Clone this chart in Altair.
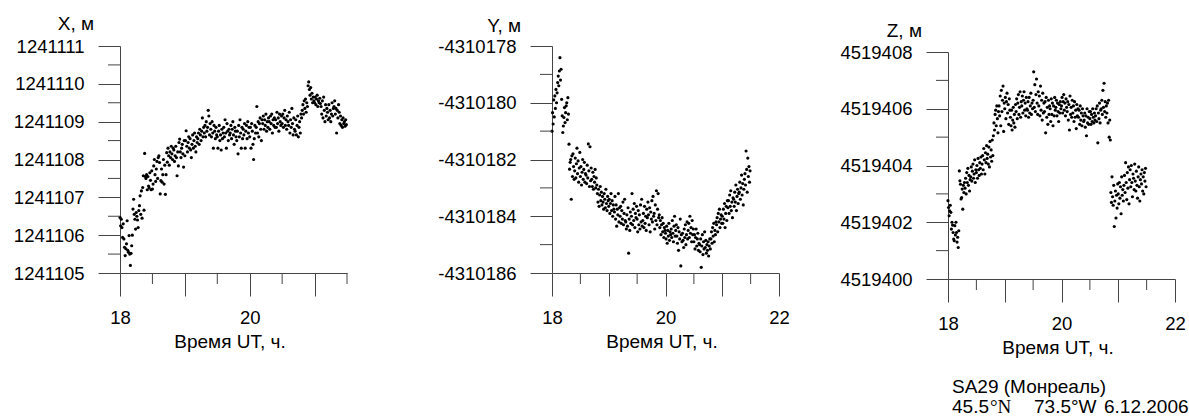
import altair as alt
import pandas as pd

# Epochs of the GPS solutions, hours UT
HOURS = [
    18.00, 18.01, 18.02, 18.03, 18.04, 18.05, 18.06, 18.07, 18.08, 18.09,
    18.10, 18.11, 18.12, 18.13, 18.14, 18.15, 18.16, 18.17, 18.18, 18.19,
    18.20, 18.21, 18.22, 18.23, 18.24, 18.25, 18.26, 18.27, 18.28, 18.29,
    18.30, 18.31, 18.32, 18.33, 18.34, 18.35, 18.36, 18.37, 18.38, 18.39,
    18.40, 18.41, 18.42, 18.43, 18.44, 18.45, 18.46, 18.47, 18.48, 18.49,
    18.50, 18.51, 18.52, 18.53, 18.54, 18.55, 18.56, 18.57, 18.58, 18.59,
    18.60, 18.61, 18.62, 18.63, 18.64, 18.65, 18.66, 18.67, 18.68, 18.69,
    18.70, 18.71, 18.72, 18.73, 18.74, 18.75, 18.76, 18.77, 18.78, 18.79,
    18.80, 18.81, 18.82, 18.83, 18.84, 18.85, 18.86, 18.87, 18.88, 18.89,
    18.90, 18.91, 18.92, 18.93, 18.94, 18.95, 18.96, 18.97, 18.98, 18.99,
    19.00, 19.01, 19.02, 19.03, 19.04, 19.05, 19.06, 19.07, 19.08, 19.09,
    19.10, 19.11, 19.12, 19.13, 19.14, 19.15, 19.16, 19.17, 19.18, 19.19,
    19.20, 19.21, 19.22, 19.23, 19.24, 19.25, 19.26, 19.27, 19.28, 19.29,
    19.30, 19.31, 19.32, 19.33, 19.34, 19.35, 19.36, 19.37, 19.38, 19.39,
    19.40, 19.41, 19.42, 19.43, 19.44, 19.45, 19.46, 19.47, 19.48, 19.49,
    19.50, 19.51, 19.52, 19.53, 19.54, 19.55, 19.56, 19.57, 19.58, 19.59,
    19.60, 19.61, 19.62, 19.63, 19.64, 19.65, 19.66, 19.67, 19.68, 19.69,
    19.70, 19.71, 19.72, 19.73, 19.74, 19.75, 19.76, 19.77, 19.78, 19.79,
    19.80, 19.81, 19.82, 19.83, 19.84, 19.85, 19.86, 19.87, 19.88, 19.89,
    19.90, 19.91, 19.92, 19.93, 19.94, 19.95, 19.96, 19.97, 19.98, 19.99,
    20.00, 20.01, 20.02, 20.03, 20.04, 20.05, 20.06, 20.07, 20.08, 20.09,
    20.10, 20.11, 20.12, 20.13, 20.14, 20.15, 20.16, 20.17, 20.18, 20.19,
    20.20, 20.21, 20.22, 20.23, 20.24, 20.25, 20.26, 20.27, 20.28, 20.29,
    20.30, 20.31, 20.32, 20.33, 20.34, 20.35, 20.36, 20.37, 20.38, 20.39,
    20.40, 20.41, 20.42, 20.43, 20.44, 20.45, 20.46, 20.47, 20.48, 20.49,
    20.50, 20.51, 20.52, 20.53, 20.54, 20.55, 20.56, 20.57, 20.58, 20.59,
    20.60, 20.61, 20.62, 20.63, 20.64, 20.65, 20.66, 20.67, 20.68, 20.69,
    20.70, 20.71, 20.72, 20.73, 20.74, 20.75, 20.76, 20.77, 20.78, 20.79,
    20.80, 20.81, 20.82, 20.83, 20.84, 20.85, 20.86, 20.87, 20.88, 20.89,
    20.90, 20.91, 20.92, 20.93, 20.94, 20.95, 20.96, 20.97, 20.98, 20.99,
    21.00, 21.01, 21.02, 21.03, 21.04, 21.05, 21.06, 21.07, 21.08, 21.09,
    21.10, 21.11, 21.12, 21.13, 21.14, 21.15, 21.16, 21.17, 21.18, 21.19,
    21.20, 21.21, 21.22, 21.23, 21.24, 21.25, 21.26, 21.27, 21.28, 21.29,
    21.30, 21.31, 21.32, 21.33, 21.34, 21.35, 21.36, 21.37, 21.38, 21.39,
    21.40, 21.41, 21.42, 21.43, 21.44, 21.45, 21.46, 21.47, 21.48, 21.49,
]

# Coordinates in metres, stored relative to the bottom of each axis
X_BASE = 1241105
Y_BASE = -4310186
Z_BASE = 4519400

X_OFF = [
    1.47, 1.25, 1.42, 1.20, 0.94, 1.30, 0.90, 0.68, 0.46, 0.64,
    0.77, 1.38, 0.60, 0.55, 0.99, 0.50, 0.20, 0.52, 0.72, 1.00,
    1.69, 1.95, 1.55, 1.42, 1.16, 1.60, 1.50, 1.40, 1.20, 1.65,
    1.78, 2.04, 1.55, 2.17, 1.45, 2.26, 2.57, 1.66, 3.16, 2.55,
    2.50, 2.60, 2.20, 2.55, 2.30, 2.25, 2.65, 2.45, 2.20, 2.70,
    2.22, 2.35, 2.83, 3.00, 2.60, 2.42, 2.75, 2.95, 2.50, 3.05,
    3.10, 2.92, 2.09, 2.44, 2.75, 2.40, 2.60, 3.00, 2.35, 2.85,
    2.08, 2.60, 3.18, 2.93, 3.30, 3.10, 2.85, 3.20, 3.05, 3.35,
    3.15, 3.00, 3.30, 3.25, 2.95, 3.10, 3.35, 3.05, 2.57, 3.20,
    2.83, 3.45, 3.54, 3.20, 3.05, 3.30, 3.40, 3.15, 2.80, 3.50,
    3.10, 3.50, 3.76, 3.35, 3.20, 3.45, 3.60, 3.30, 3.55, 3.25,
    3.05, 3.40, 3.65, 3.30, 3.50, 3.70, 3.35, 3.20, 3.60, 3.45,
    3.55, 3.70, 3.40, 3.80, 3.65, 3.50, 3.75, 4.10, 3.60, 3.85,
    3.70, 3.90, 3.60, 4.00, 3.75, 3.85, 4.30, 4.15, 3.65, 3.95,
    3.80, 3.60, 4.00, 3.70, 3.30, 3.90, 3.75, 3.55, 3.85, 3.65,
    3.60, 3.30, 3.75, 3.90, 3.50, 3.65, 3.25, 3.80, 3.55, 3.70,
    3.85, 3.60, 4.05, 3.70, 3.30, 3.95, 3.75, 3.50, 3.80, 3.65,
    3.70, 3.90, 3.55, 3.80, 4.00, 3.65, 3.40, 3.85, 3.75, 3.60,
    3.50, 3.75, 3.15, 3.90, 3.60, 4.05, 3.70, 3.30, 3.85, 3.55,
    3.80, 3.65, 3.95, 3.30, 3.75, 3.90, 3.55, 4.00, 3.70, 3.85,
    3.60, 3.85, 3.30, 3.95, 3.75, 3.40, 3.00, 3.55, 3.90, 3.70,
    3.85, 4.40, 3.70, 4.00, 3.60, 3.95, 4.10, 3.80, 3.50, 4.05,
    3.95, 4.15, 3.80, 4.05, 3.90, 4.20, 3.75, 4.00, 3.85, 4.10,
    4.00, 3.80, 4.15, 3.95, 4.20, 3.70, 4.05, 3.90, 4.10, 3.85,
    4.05, 3.85, 4.25, 3.95, 4.10, 3.75, 4.20, 4.00, 3.90, 4.15,
    3.95, 4.20, 3.85, 4.10, 4.30, 3.90, 4.05, 3.80, 4.15, 4.00,
    3.90, 4.25, 3.70, 4.05, 3.85, 4.35, 3.95, 3.65, 4.10, 3.80,
    3.75, 4.05, 3.65, 3.90, 4.15, 3.60, 3.85, 4.00, 3.70, 4.20,
    4.10, 4.30, 4.45, 4.20, 4.55, 4.35, 4.60, 4.25, 4.50, 4.40,
    4.95, 5.05, 4.85, 4.70, 4.90, 4.60, 4.75, 4.50, 4.65, 4.55,
    4.50, 4.65, 4.45, 4.60, 4.70, 4.40, 4.55, 4.50, 4.62, 4.48,
    4.40, 4.20, 4.55, 4.10, 4.65, 4.30, 4.00, 4.45, 4.15, 4.35,
    4.25, 4.05, 4.45, 4.10, 4.30, 4.00, 4.20, 4.50, 4.15, 4.35,
    4.40, 4.55, 4.20, 4.35, 3.70, 4.30, 4.10, 4.45, 4.25, 3.95,
    4.15, 3.90, 4.05, 3.85, 4.10, 3.95, 4.00, 3.88, 4.05, 3.92,
]

Y_OFF = [
    5.00, 5.65, 5.25, 6.10, 5.50, 6.24, 5.80, 6.47, 6.00, 6.35,
    6.71, 6.94, 6.60, 7.12, 7.59, 6.80, 7.18, 6.12, 5.54, 4.95,
    5.18, 5.48, 5.83, 5.30, 5.65, 5.89, 6.00, 5.40, 6.18, 5.60,
    4.54, 3.66, 3.90, 4.00, 2.60, 4.13, 3.40, 4.20, 3.75, 3.30,
    3.60, 4.05, 3.35, 3.85, 4.40, 3.50, 3.95, 3.20, 3.70, 4.25,
    3.40, 3.75, 3.10, 3.55, 4.00, 3.30, 3.65, 3.90, 3.20, 3.50,
    3.45, 3.15, 3.80, 3.35, 4.55, 3.60, 3.05, 4.45, 3.25, 3.70,
    3.30, 3.05, 3.55, 2.95, 3.40, 3.20, 3.65, 3.00, 3.35, 3.10,
    2.80, 2.50, 2.95, 2.35, 2.75, 3.05, 2.55, 2.85, 2.40, 2.70,
    2.50, 2.25, 2.80, 2.60, 2.30, 2.95, 2.45, 2.20, 2.70, 2.55,
    2.35, 2.60, 2.10, 2.45, 2.80, 2.20, 2.55, 2.00, 2.40, 2.25,
    2.15, 2.70, 1.90, 2.40, 1.65, 2.25, 2.05, 2.80, 1.80, 2.30,
    2.00, 2.35, 1.75, 2.20, 1.90, 2.50, 1.70, 2.10, 2.60, 1.85,
    1.80, 1.55, 2.05, 1.65, 2.30, 0.70, 1.90, 1.50, 2.15, 1.75,
    2.00, 2.80, 1.70, 2.25, 1.85, 2.45, 1.60, 2.10, 1.95, 2.35,
    1.90, 1.45, 2.20, 1.70, 2.05, 1.55, 2.40, 1.80, 2.60, 1.65,
    1.85, 2.10, 1.60, 2.35, 1.75, 2.00, 1.50, 2.25, 1.95, 2.50,
    2.05, 1.70, 2.30, 1.45, 2.15, 1.90, 2.55, 1.80, 2.70, 2.00,
    2.10, 1.55, 2.40, 1.85, 2.90, 1.70, 2.25, 2.80, 1.95, 2.05,
    1.60, 1.85, 1.35, 1.70, 1.95, 1.45, 1.75, 1.25, 1.60, 1.50,
    1.40, 1.20, 1.65, 1.05, 1.50, 1.30, 1.75, 1.15, 1.45, 1.35,
    1.55, 1.25, 1.85, 1.40, 1.10, 1.65, 2.00, 1.30, 1.50, 1.70,
    1.30, 1.05, 1.60, 0.80, 1.45, 1.20, 1.90, 0.25, 1.35, 1.10,
    1.40, 1.15, 0.90, 1.55, 1.25, 1.70, 1.00, 1.35, 1.80, 1.20,
    1.50, 1.75, 1.25, 2.00, 1.40, 1.60, 1.10, 1.85, 1.35, 1.55,
    1.10, 1.35, 0.85, 1.25, 1.55, 0.95, 1.20, 1.40, 0.80, 1.05,
    1.00, 0.75, 1.20, 0.20, 0.95, 1.35, 0.65, 1.10, 0.85, 1.45,
    0.90, 1.15, 0.70, 1.00, 0.80, 1.10, 0.60, 0.95, 1.20, 0.85,
    1.20, 1.45, 1.05, 1.60, 1.30, 1.75, 1.10, 1.50, 1.35, 1.80,
    1.70, 1.95, 1.45, 2.10, 1.80, 2.25, 1.60, 1.90, 2.05, 1.75,
    2.00, 1.75, 2.25, 1.90, 2.45, 1.60, 2.10, 2.35, 1.85, 2.55,
    2.30, 2.55, 2.10, 2.75, 2.35, 2.90, 2.20, 2.50, 1.95, 2.65,
    2.60, 2.35, 2.85, 2.50, 3.10, 2.20, 2.70, 2.95, 2.45, 2.80,
    2.85, 3.20, 2.60, 3.00, 3.45, 2.75, 3.15, 2.40, 2.95, 3.30,
    3.50, 3.10, 4.30, 3.65, 2.85, 4.05, 3.40, 3.75, 3.20, 3.60,
]

Z_OFF = [
    2.76, 2.52, 2.23, 2.40, 2.60, 2.35, 1.76, 2.00, 1.90, 1.64,
    1.41, 1.35, 1.88, 1.55, 2.00, 1.64, 1.30, 1.47, 1.11, 1.70,
    3.81, 3.46, 3.34, 2.82, 2.87, 3.17, 2.46, 3.30, 3.05, 3.40,
    3.20, 3.55, 3.00, 3.75, 3.40, 3.90, 3.30, 3.65, 3.10, 3.50,
    3.60, 3.95, 3.45, 3.80, 4.05, 3.55, 3.70, 4.20, 3.40, 3.85,
    3.75, 4.00, 3.55, 4.25, 3.85, 3.65, 4.10, 3.90, 4.30, 3.70,
    4.05, 4.35, 3.85, 4.60, 4.20, 3.70, 4.45, 4.10, 4.70, 4.25,
    4.40, 4.05, 4.65, 3.95, 4.85, 4.30, 4.55, 4.15, 4.90, 4.35,
    5.05, 5.50, 5.25, 5.80, 5.95, 5.40, 6.10, 5.65, 5.15, 5.90,
    6.10, 5.75, 6.45, 5.40, 6.65, 5.90, 6.30, 6.80, 5.20, 6.20,
    6.00, 6.40, 5.65, 6.25, 6.55, 5.85, 6.15, 5.45, 6.35, 5.95,
    5.70, 5.40, 5.95, 5.25, 5.60, 6.05, 5.50, 5.80, 5.35, 6.15,
    5.90, 6.35, 5.65, 6.20, 6.50, 5.80, 6.05, 6.60, 5.70, 6.25,
    6.10, 6.45, 5.85, 6.30, 6.60, 5.95, 6.20, 5.75, 6.40, 6.00,
    5.95, 6.25, 5.70, 6.40, 5.85, 6.10, 6.55, 5.80, 6.20, 6.00,
    6.30, 7.30, 6.05, 6.85, 5.90, 6.50, 7.05, 6.20, 5.80, 6.60,
    6.10, 6.45, 5.75, 6.80, 5.95, 6.30, 5.60, 6.55, 5.85, 6.20,
    5.90, 6.25, 5.15, 6.40, 5.70, 6.05, 5.45, 6.30, 5.80, 6.10,
    6.00, 5.55, 6.35, 5.80, 6.20, 5.40, 6.10, 5.75, 6.40, 5.95,
    6.05, 6.30, 5.75, 6.20, 5.90, 5.55, 6.15, 5.85, 6.25, 6.00,
    6.10, 6.40, 5.85, 6.25, 6.50, 5.95, 6.20, 5.75, 6.35, 6.05,
    5.90, 6.25, 5.60, 6.15, 5.25, 6.45, 5.80, 6.05, 5.70, 6.30,
    5.85, 6.10, 5.55, 6.25, 5.70, 5.95, 5.30, 6.15, 5.75, 6.00,
    5.70, 5.95, 5.45, 6.10, 5.60, 5.85, 5.40, 6.00, 5.75, 5.55,
    5.60, 5.85, 5.35, 5.75, 5.05, 6.00, 5.50, 5.70, 5.45, 5.90,
    5.65, 5.90, 5.45, 5.80, 5.55, 6.00, 5.70, 5.50, 5.85, 5.60,
    5.75, 6.00, 5.55, 6.10, 4.80, 5.85, 5.65, 6.20, 5.50, 5.95,
    6.00, 6.30, 5.80, 6.65, 6.05, 6.90, 5.90, 6.25, 5.70, 6.10,
    5.85, 6.20, 5.50, 6.30, 5.00, 5.60, 4.90, 3.05, 2.70, 3.60,
    2.90, 2.60, 3.30, 1.85, 2.75, 3.10, 2.15, 2.95, 2.50, 3.35,
    3.00, 2.65, 3.40, 2.85, 3.25, 2.30, 3.60, 2.95, 3.15, 2.75,
    3.30, 3.65, 3.05, 4.10, 3.40, 2.80, 3.75, 3.20, 3.95, 2.65,
    3.50, 3.85, 3.25, 4.00, 3.40, 2.90, 3.70, 3.55, 3.15, 4.05,
    3.45, 3.10, 3.80, 3.30, 2.85, 3.60, 3.95, 3.25, 2.75, 3.50,
    3.70, 3.35, 3.85, 3.10, 3.60, 3.00, 3.75, 3.45, 3.90, 3.25,
]

# Axis ticks: labelled (long) and intermediate (short)
X_MAJOR = [1241105, 1241106, 1241107, 1241108, 1241109, 1241110, 1241111]
X_MINOR = [1241105.5, 1241106.5, 1241107.5, 1241108.5, 1241109.5, 1241110.5]
Y_MAJOR = [-4310186, -4310184, -4310182, -4310180, -4310178]
Y_MINOR = [-4310185, -4310183, -4310181, -4310179]
Z_MAJOR = [4519400, 4519402, 4519404, 4519406, 4519408]
Z_MINOR = [4519401, 4519403, 4519405, 4519407]

T_MAJOR_SHORT = [18, 19, 20, 21]
T_MINOR_SHORT = [18.5, 19.5, 20.5, 21.5]
T_MAJOR = [18, 19, 20, 21, 22]
T_MINOR = [18.5, 19.5, 20.5, 21.5]

STATION = "SA29 (Монреаль)"
LAT = "45.5"
LAT_HEMI = "°N"
LON = "73.5°W"
DATE = "6.12.2006"

FONT = "Liberation Sans"
LABEL_FS = 18.5
TITLE_FS = 19
INK = "#444444"
PLOT = 227  # side of each plot area, px


def panel(offsets, base, y_dom, y_major, y_minor, t_dom, t_major, t_minor,
          title, title_dx, title_dy, view_w, shift):
    h = PLOT + shift
    pts = pd.DataFrame({"t": HOURS, "v": [base + o for o in offsets]})
    xs = alt.Scale(domain=t_dom, range=[0, PLOT], nice=False, zero=False)
    ys = alt.Scale(domain=y_dom, range=[h, shift], nice=False, zero=False)

    x_axis = alt.Axis(
        values=t_major, tickSize=23, labelPadding=12, grid=False,
        labelOverlap=False, labelFlush=False,
        labelExpr="datum.value % 2 === 0 ? '' + datum.value : ''",
        title="Время UT, ч.", titlePadding=6, titleX=PLOT / 2 - 4,
    )
    y_axis = alt.Axis(
        values=y_major, tickSize=22, labelPadding=14, grid=False,
        labelOverlap=False, labelFlush=False,
        labelExpr="'' + datum.value", title=None,
    )

    dots = alt.Chart(pts).mark_circle(size=10, color="black", opacity=1).encode(
        x=alt.X("t:Q", scale=xs, axis=x_axis),
        y=alt.Y("v:Q", scale=ys, axis=y_axis),
    )
    # short intermediate ticks, drawn through the shared scales
    y_ticks = alt.Chart(pd.DataFrame({"v": y_minor})).mark_rule(
        color=INK, strokeWidth=1
    ).encode(y=alt.Y("v:Q", scale=ys, axis=y_axis),
             x=alt.value(-12), x2=alt.value(0))
    t_ticks = alt.Chart(pd.DataFrame({"t": t_minor})).mark_rule(
        color=INK, strokeWidth=1
    ).encode(x=alt.X("t:Q", scale=xs, axis=x_axis),
             y=alt.value(h), y2=alt.value(h + 11))
    y_title = alt.Chart(pd.DataFrame({"s": [title]})).mark_text(
        align="right", baseline="middle", font=FONT, fontSize=TITLE_FS,
        color="black",
    ).encode(text="s:N", x=alt.value(title_dx), y=alt.value(shift + title_dy))

    return alt.layer(dots, y_ticks, t_ticks, y_title).properties(
        width=view_w, height=h
    )


def note(text, x, y, font=FONT):
    return alt.Chart(pd.DataFrame({"s": [text]})).mark_text(
        align="left", baseline="middle", font=font, fontSize=TITLE_FS,
        color="black",
    ).encode(text="s:N", x=alt.value(x), y=alt.value(y))


p1 = panel(X_OFF, X_BASE, [1241105, 1241111], X_MAJOR, X_MINOR,
           [18, 21.5], T_MAJOR_SHORT, T_MINOR_SHORT, "X, м", -26, -22, 432, 0)
p2 = panel(Y_OFF, Y_BASE, [-4310186, -4310178], Y_MAJOR, Y_MINOR,
           [18, 22], T_MAJOR, T_MINOR, "Y, м", -31, -20, 396, 0)
p3 = panel(Z_OFF, Z_BASE, [4519400, 4519408], Z_MAJOR, Z_MINOR,
           [18, 22], T_MAJOR, T_MINOR, "Z, м", -26, -21, 240, 6)
p3 = alt.layer(
    p3,
    note(STATION, 4, 341),
    note(LAT, 4, 361),
    note(LAT_HEMI, 42, 361, "Liberation Serif"),
    note(LON, 86, 361),
    note(DATE, 156, 361),
)

chart = alt.hconcat(p1, p2, p3, spacing=0, bounds="flush").properties(
    padding={"left": 13, "top": 15, "right": 0, "bottom": 0}
).configure_view(strokeWidth=0).configure_axis(
    domainColor=INK, tickColor=INK, domainWidth=1, tickWidth=1,
    labelFont=FONT, labelFontSize=LABEL_FS, labelColor="black",
    titleFont=FONT, titleFontSize=TITLE_FS, titleFontWeight="normal",
    titleColor="black",
)

chart.save("out.html", embed_options={"renderer": "svg", "actions": False})
